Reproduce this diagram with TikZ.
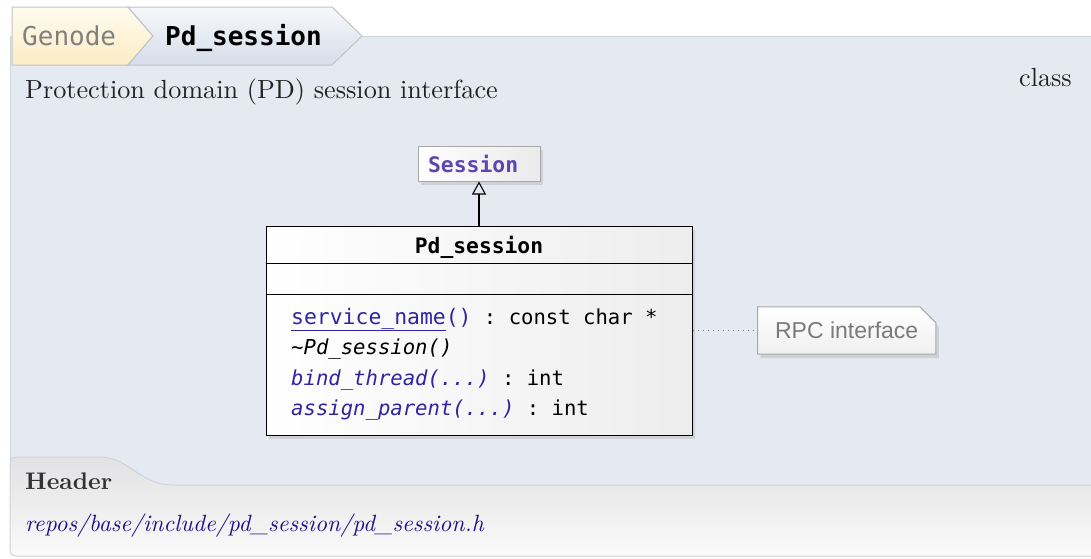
\documentclass[tikz,border=0pt]{standalone}
\usepackage{fontspec}
\setmainfont{lmroman10-regular}[Extension=.otf, BoldFont=lmroman10-bold,
  ItalicFont=lmroman10-italic, BoldItalicFont=lmroman10-bolditalic]
\setmonofont{DejaVu Sans Mono}
\setsansfont{Liberation Sans}
\usepackage{xcolor}
\usepackage{tikz}
\usetikzlibrary{arrows.meta, positioning, shadows}
\definecolor{panelblue}{RGB}{229,233,241}
\definecolor{panelline}{RGB}{206,211,220}
\definecolor{crumbyellow}{RGB}{251,236,196}
\definecolor{crumbcream}{RGB}{255,251,238}
\definecolor{crumbtop}{RGB}{246,248,251}
\definecolor{crumbbottom}{RGB}{214,221,233}
\definecolor{crumbline}{RGB}{192,196,202}
\definecolor{linkblue}{RGB}{48,36,160}
\definecolor{basepurple}{RGB}{92,70,176}
\definecolor{pathblue}{RGB}{32,16,138}
\definecolor{notegray}{RGB}{122,122,122}
\definecolor{boxline}{RGB}{168,168,168}
\definecolor{headtop}{RGB}{226,226,228}
\definecolor{headbottom}{RGB}{250,250,250}
\definecolor{darktext}{RGB}{34,34,34}
\tikzset{
  crumbtext/.style={anchor=base west, inner sep=0pt,
    font=\fontsize{26pt}{30pt}\selectfont\ttfamily},
  serifbig/.style={inner sep=0pt, text=darktext,
    font=\fontsize{26.2pt}{30pt}\selectfont},
  umlclass/.style={rectangle, draw=black, line width=1pt, inner sep=0pt,
    left color=white, right color=black!7,
    drop shadow={shadow xshift=3pt, shadow yshift=-4pt, opacity=0.22}},
  umlbase/.style={rectangle, draw=boxline, line width=1pt, inner xsep=10pt,
    text width=102pt, align=left, minimum height=35pt, text=basepurple,
    left color=white, right color=black!8,
    font=\fontsize{21.4pt}{25pt}\selectfont\ttfamily\bfseries,
    drop shadow={shadow xshift=3pt, shadow yshift=-4pt, opacity=0.22}},
  rpcnote/.style={rectangle, minimum width=178pt, minimum height=47pt,
    inner sep=0pt, text=notegray, font=\fontsize{23pt}{27pt}\selectfont\sffamily},
  member/.style={anchor=base west, inner sep=0pt,
    font=\fontsize{20.6pt}{25pt}\selectfont\ttfamily},
  inherit/.style={-{Triangle[open,length=13pt,width=14pt]}, line width=1.1pt},
  notelink/.style={dash pattern=on 1.6pt off 3.4pt, line width=1.6pt, color=black!50}
}
\begin{document}
\begin{tikzpicture}[x=1pt, y=-1pt]
\useasboundingbox (0,0) rectangle (1091,558);
\fill[white] (0,0) rectangle (1091,558);

\fill[panelblue] (10,36) rectangle (1091,486);
\draw[panelline, line width=1pt] (1091,36) -- (10,36) -- (10,486);

\shade[top color=headtop, bottom color=headbottom, draw=panelline, line width=1pt,
  rounded corners=5pt]
  (1092,485) -- (178,485) .. controls (140,485) and (128,457) .. (96,457)
  -- (10,457) -- (10,556) -- (1092,556);

\shade[top color=crumbcream, bottom color=crumbyellow, draw=crumbline, line width=1pt]
  (12,7) -- (128,7) -- (153,36) -- (128,65) -- (12,65) -- cycle;
\shade[top color=crumbtop, bottom color=crumbbottom, draw=crumbline, line width=1pt]
  (128,7) -- (332,7) -- (362,36) -- (332,65) -- (128,65) -- (153,36) -- cycle;
\node (genode) [crumbtext, text=black!50] at (22,45) {Genode};
\node (crumbpd) [crumbtext, font=\fontsize{26pt}{30pt}\selectfont\ttfamily\bfseries]
  at (165,45) {Pd\_session};

\node (brief) [serifbig, anchor=base west] at (25,98)
  {Protection domain (PD) session interface};
\node (kind) [serifbig, anchor=base east] at (1072,86) {class};

\node (pdclass) [umlclass, minimum width=426pt, minimum height=209pt] at (479,330.5) {};
\draw[line width=1pt] ([yshift=-38pt]pdclass.north west) -- ([yshift=-38pt]pdclass.north east);
\draw[line width=1pt] ([yshift=-69pt]pdclass.north west) -- ([yshift=-69pt]pdclass.north east);
\node (pdtitle) [inner sep=0pt, anchor=base,
  font=\fontsize{21.3pt}{25pt}\selectfont\ttfamily\bfseries] at (479,253) {Pd\_session};
\node (session) [umlbase, above=44pt of pdclass] {Session};
\draw[inherit] (pdclass) -- (session);

\node (mname)   [member] at (291,324)
  {{\fontsize{21.4pt}{25pt}\selectfont\color{linkblue}\underline{service\_name}()} : const char *};
\node (mdtor)   [member] at (291,354.5) {\itshape\textasciitilde Pd\_session()};
\node (mbind)   [member] at (291,385)
  {\textcolor{linkblue}{\itshape bind\_thread(...)} : int};
\node (massign) [member] at (291,415)
  {\textcolor{linkblue}{\itshape assign\_parent(...)} : int};

\node (rpc) [rpcnote, right=65pt of pdclass] {};
\shade[top color=white, bottom color=black!6, draw=boxline, line width=1pt,
  drop shadow={shadow xshift=3pt, shadow yshift=-4pt, opacity=0.22}]
  (rpc.south west) -- (rpc.north west) -- ([xshift=-16pt]rpc.north east)
  -- ([yshift=-16pt]rpc.north east) -- (rpc.south east) -- cycle;
\node (rpctext) [rpcnote] at (rpc) {RPC interface};
\draw[notelink] (pdclass.east |- rpc.west) -- (rpc.west);

\node (headlabel) [serifbig, anchor=base west, text=black!80,
  font=\fontsize{24pt}{28pt}\selectfont\bfseries] at (25,489) {Header};
\node (headpath) [serifbig, anchor=base west, text=pathblue,
  font=\fontsize{23.5pt}{28pt}\selectfont\itshape] at (25,531)
  {repos/base/include/pd\_session/pd\_session.h};
\end{tikzpicture}
\end{document}
